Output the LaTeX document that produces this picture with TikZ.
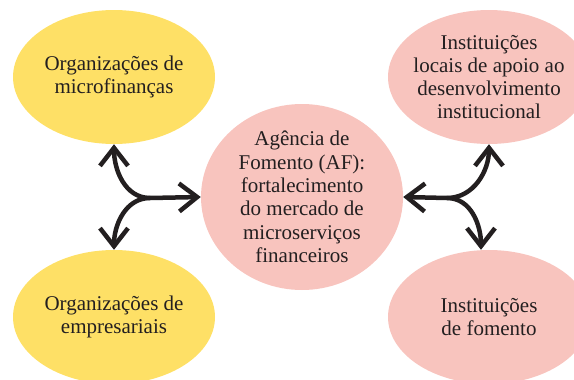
\documentclass[tikz,border=0pt]{standalone}
\usepackage{fontspec}
\setmainfont{Liberation Serif}
\usetikzlibrary{shapes.geometric,arrows.meta,calc}
\definecolor{yel}{RGB}{254,224,102}
\definecolor{pnk}{RGB}{248,196,190}
\definecolor{ink}{RGB}{35,31,32}
\begin{document}
\begin{tikzpicture}[x=1pt,y=1pt,
  blob/.style={ellipse, minimum width=202pt, minimum height=134pt, inner sep=0pt},
  txt/.style={align=center, font=\fontsize{21}{23.3}\selectfont, text=ink},
  link/.style={line width=4.5pt, draw=ink, -{Straight Barb[length=18pt,width=28pt]}}
]
\path[use as bounding box] (0,0) rectangle (574,-380);
\clip (0,0) rectangle (574,-380);
\node[blob, fill=yel, label={[txt]center:Organizações de\\microfinanças}] (tl) at (114,-77) {};
\node[blob, fill=yel, label={[txt]center:Organizações de\\empresariais}] (bl) at (114,-317) {};
\node[blob, fill=pnk, minimum height=186pt, label={[txt]center:Agência de\\Fomento (AF):\\fortalecimento\\do mercado de\\microserviços\\financeiros}] (c) at (302,-197) {};
\node[blob, fill=pnk, label={[txt]center:Instituições\\locais de apoio ao\\desenvolvimento\\institucional}] (tr) at (489,-77) {};
\node[blob, fill=pnk, label={[txt]center:Instituições\\de fomento}] (br) at (489,-317) {};
\coordinate (jl) at (150,-198);
\coordinate (jr) at (447,-198);
\draw[link] (jl) -- (c.west);
\draw[link] (jl) to[out=180,in=-90] (tl.south);
\draw[link] (jl) to[out=180,in=90] (bl.north);
\draw[link] (jr) -- (c.east);
\draw[link] (jr) to[out=0,in=-90] (tr.south);
\draw[link] (jr) to[out=0,in=90] ($(br.north)+(-8,0)$);
\end{tikzpicture}
\end{document}
